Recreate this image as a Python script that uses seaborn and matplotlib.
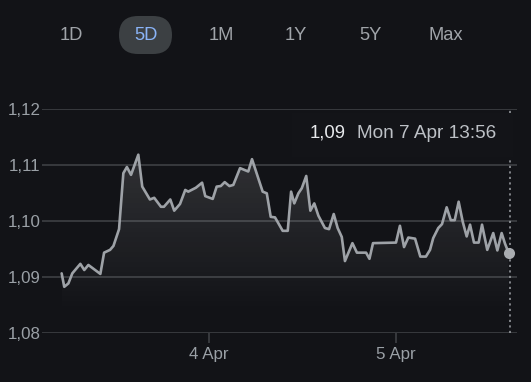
import numpy as np
import pandas as pd
import matplotlib
matplotlib.use("Agg")
import matplotlib.pyplot as plt
import seaborn as sns
from matplotlib.patches import FancyBboxPatch, Rectangle
from matplotlib.ticker import FuncFormatter, FixedLocator

# ---------------- data ----------------
days = [3.212, 3.226, 3.248, 3.269, 3.312, 3.333, 3.355, 3.419, 3.439, 3.471,
        3.489, 3.519, 3.542, 3.561, 3.583, 3.622, 3.643, 3.684, 3.707, 3.743,
        3.759, 3.793, 3.814, 3.845, 3.873, 3.889, 3.930, 3.963, 3.980, 4.020,
        4.041, 4.063, 4.084, 4.109, 4.130, 4.166, 4.210, 4.230, 4.287, 4.309,
        4.330, 4.353, 4.394, 4.421, 4.439, 4.456, 4.478, 4.496, 4.520, 4.542,
        4.563, 4.585, 4.620, 4.642, 4.667, 4.688, 4.710, 4.727, 4.767, 4.791,
        4.840, 4.858, 4.877, 5.000, 5.021, 5.043, 5.066, 5.102, 5.130, 5.160,
        5.182, 5.199, 5.226, 5.246, 5.271, 5.293, 5.314, 5.335, 5.357, 5.378,
        5.396, 5.417, 5.442, 5.460, 5.488, 5.520, 5.542, 5.565, 5.583, 5.602]
prices = [1.0906, 1.0882, 1.0888, 1.0906, 1.0923, 1.0912, 1.0921, 1.0905, 1.0943, 1.0948,
          1.0955, 1.0985, 1.1085, 1.1096, 1.1082, 1.1118, 1.1061, 1.1038, 1.1041, 1.1025,
          1.1025, 1.1038, 1.1018, 1.1030, 1.1055, 1.1052, 1.1059, 1.1068, 1.1044, 1.1039,
          1.1061, 1.1062, 1.1069, 1.1062, 1.1064, 1.1094, 1.1088, 1.1110, 1.1052, 1.1049,
          1.1007, 1.1006, 1.0982, 1.0982, 1.1052, 1.1031, 1.1049, 1.1058, 1.1080, 1.1018,
          1.1031, 1.1009, 1.0987, 1.0985, 1.1012, 1.0987, 1.0971, 1.0928, 1.0960, 1.0943,
          1.0943, 1.0932, 1.0960, 1.0961, 1.0991, 1.0953, 1.0970, 1.0968, 1.0936, 1.0936,
          1.0948, 1.0969, 1.0987, 1.0994, 1.1024, 1.1001, 1.1001, 1.1034, 1.0998, 1.0972,
          1.0993, 1.0961, 1.0961, 1.0993, 1.0948, 1.0978, 1.0947, 1.0978, 1.0959, 1.0943]
range_buttons = ["1D", "5D", "1M", "1Y", "5Y", "Max"]
active_button = "5D"
y_ticks = [1.08, 1.09, 1.10, 1.11, 1.12]
x_tick_pos = [4, 5]
x_tick_labels = ["4 Apr", "5 Apr"]
tooltip_value = "1,09"
tooltip_time = "Mon 7 Apr 13:56"

# ---------------- style ----------------
BG = "#121317"
GRID = "#3a3c40"
LINE = "#9ea2a7"
TEXT = "#9aa0a6"
W, H = 531, 382

sns.set_theme(style="dark")
plt.rcParams["font.family"] = ["Liberation Sans", "DejaVu Sans"]

fig = plt.figure(figsize=(W / 100, H / 100), dpi=100, facecolor=BG)

def fx(px):
    return px / W

def fy(py):
    return 1 - py / H

ax_left, ax_right, ax_top, ax_bot = 42, 517, 108.8, 332.7
ax = fig.add_axes([fx(ax_left), fy(ax_bot), (ax_right - ax_left) / W, (ax_bot - ax_top) / H])
ax.set_facecolor(BG)
for s in ax.spines.values():
    s.set_visible(False)

ax.set_xlim(4 + (ax_left - 209) / 187, 4 + (ax_right - 209) / 187)
ax.set_ylim(y_ticks[0], y_ticks[-1])

# grid lines
for yv in y_ticks:
    ax.axhline(yv, color=GRID, lw=1.3, zorder=0.5)

df = pd.DataFrame({"day": days, "price": prices})

# gradient fill under the line
poly = ax.fill_between(df["day"], df["price"], y_ticks[0], color="none", lw=0)
g_top, g_bot = 1.112, 1.083
n = 256
alpha = np.linspace(0.0, 0.13, n)[:, None]
rgba = np.ones((n, 1, 4))
rgba[..., 3] = alpha
im = ax.imshow(rgba, extent=[days[0], days[-1], g_bot, g_top], origin="lower",
               aspect="auto", zorder=1, interpolation="bilinear")
im.set_clip_path(poly.get_paths()[0], transform=ax.transData)

# line
sns.lineplot(data=df, x="day", y="price", color=LINE, linewidth=1.9, ax=ax,
             zorder=3, legend=False)
ax.plot([days[-1]], [prices[-1]], "o", ms=8, color="#a9acb0", zorder=4, mec="none")

# dotted cursor line
ax.axvline(days[-1] + 0.008, color=LINE, lw=1.1, ls=(0, (1.4, 2.2)), zorder=2)

# ticks
ax.yaxis.set_major_locator(FixedLocator(y_ticks))
ax.yaxis.set_major_formatter(FuncFormatter(lambda v, p: f"{v:.2f}".replace(".", ",")))
ax.set_xticks(x_tick_pos)
ax.set_xticklabels(x_tick_labels)
ax.tick_params(axis="y", length=0, pad=1, labelsize=12.2, labelcolor=TEXT)
ax.tick_params(axis="x", length=7.5, width=1.3, color=GRID, direction="out",
               pad=3, labelsize=12.2, labelcolor=TEXT, bottom=True)
ax.set_xlabel("")
ax.set_ylabel("")
ax.grid(False)

# tooltip box
box = Rectangle((fx(292), fy(157)), fx(513) - fx(292), fy(113) - fy(157),
                transform=fig.transFigure, facecolor="#131418", edgecolor="none",
                zorder=6, clip_on=False)
ax.add_artist(box)
fig.text(fx(310), fy(133.5), tooltip_value, color="#e8eaed", fontsize=13.3,
         ha="left", va="center", zorder=7)
fig.text(fx(357), fy(133.5), tooltip_time, color="#bdc1c6", fontsize=13.7,
         ha="left", va="center", zorder=7)

# range buttons
btn_x = [71, 145.7, 221, 296, 371, 446]
pill = FancyBboxPatch((1.19, (H - 54) / 100), 0.53, 0.38,
                      boxstyle="round,pad=0,rounding_size=0.19",
                      transform=fig.dpi_scale_trans, facecolor="#3c4043", edgecolor="none")
fig.patches.append(pill)
for lab, xp in zip(range_buttons, btn_x):
    col = "#8ab4f8" if lab == active_button else "#a0a4a9"
    fig.text(fx(xp), fy(35), lab, color=col, fontsize=13.2, ha="center", va="center")

fig.savefig("out.png", dpi=100, facecolor=BG)
